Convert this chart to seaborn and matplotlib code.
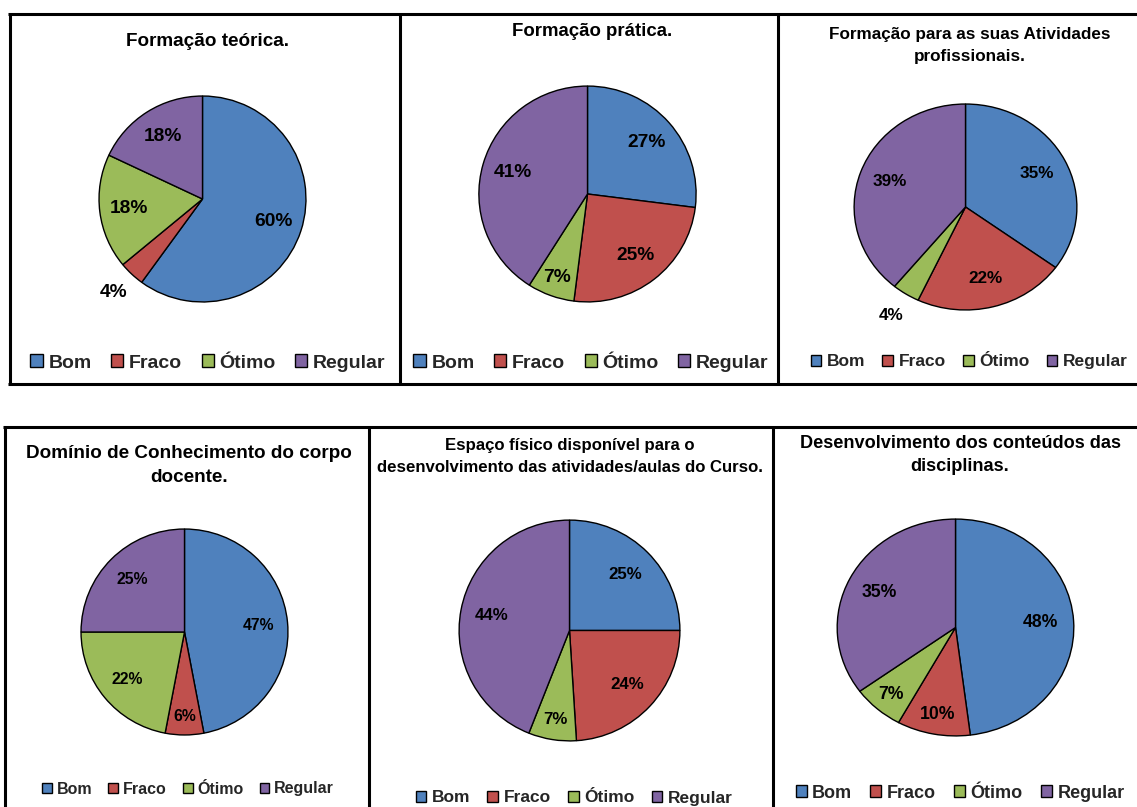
import matplotlib
matplotlib.use("Agg")
import matplotlib.pyplot as plt
import seaborn as sns
import numpy as np
from matplotlib.lines import Line2D

# ---------------- data ----------------
categories = ["Bom", "Fraco", "Ótimo", "Regular"]
titles = [
    "Formação teórica.",
    "Formação prática.",
    "Formação para as suas Atividades\nprofissionais.",
    "Domínio de Conhecimento do corpo\ndocente.",
    "Espaço físico disponível para o\ndesenvolvimento das atividades/aulas do Curso.",
    "Desenvolvimento dos conteúdos das\ndisciplinas.",
]
v_teorica = [60, 4, 18, 18]
v_pratica = [27, 25, 7, 41]
v_profissional = [35, 22, 4, 39]
v_dominio = [47, 6, 22, 25]
v_espaco = [25, 24, 7, 44]
v_conteudos = [48, 10, 7, 35]
series = [v_teorica, v_pratica, v_profissional, v_dominio, v_espaco, v_conteudos]

# ---------------- style ----------------
sns.set_theme(style="white")
plt.rcParams['font.family'] = ['Liberation Sans', 'DejaVu Sans']
colors = ["#4F81BD", "#C0504D", "#9BBB59", "#8064A2"]

W, H = 1137, 807
fig = plt.figure(figsize=(W / 100, H / 100), dpi=100)
fig.patch.set_facecolor("white")

# layout (pixels): cx, cy, rx, ry, title_x, title_y, title_fs, title_ls, pct_fs, leg_x, leg_y, leg_fs
layout = [
    (202.5, 199, 104.5, 104, 208, 42, 13.6, 1.2, 13.8, 208, 363, 14),
    (587.5, 194, 109.7, 109, 592, 32, 13.4, 1.2, 13.8, 591, 363, 14),
    (965.5, 207, 112.5, 104, 970, 45.5, 12.3, 1.6, 12.3, 969, 362, 12.5),
    (184.5, 632, 104.5, 104, 189, 465.5, 13.6, 1.6, 11.3, 188, 789, 11.5),
    (569.5, 630.5, 111.5, 111.5, 570, 456.5, 12.1, 1.6, 12.2, 574, 798, 12.5),
    (955.5, 627.5, 119.5, 109.5, 960, 455, 13.1, 1.45, 12.7, 960, 793, 13),
]

for vals, title, (cx, cy, rx, ry, tx, ty, tfs, tls, pfs, lx, ly, lfs) in zip(series, titles, layout):
    ax = fig.add_axes([(cx - rx) / W, 1 - (cy + ry) / H, 2 * rx / W, 2 * ry / H])
    wedges, _ = ax.pie(vals, colors=colors, startangle=90, counterclock=False,
                       wedgeprops=dict(edgecolor="black", linewidth=1.0))
    ax.set_aspect("auto")
    ax.set_xlim(-1.01, 1.01)
    ax.set_ylim(-1.01, 1.01)
    ax.axis("off")
    for w, v in zip(wedges, vals):
        mid = np.deg2rad((w.theta1 + w.theta2) / 2)
        d = 1.25 if v < 5 else (0.82 if v <= 10 else 0.72)
        ax.text(d * np.cos(mid), d * np.sin(mid), f"{v}%", ha="center", va="center",
                fontsize=pfs, fontweight="bold", color="black", clip_on=False)
    fig.text(tx / W, 1 - ty / H, title, ha="center", va="center", fontsize=tfs,
             fontweight="bold", color="black", multialignment="center", linespacing=tls)
    ax.legend(wedges, categories, loc="center", bbox_to_anchor=(lx / W, 1 - ly / H),
              bbox_transform=fig.transFigure, ncol=4, frameon=False,
              handlelength=0.62, handleheight=0.62, handletextpad=0.3,
              columnspacing=1.0, borderpad=0, prop=dict(weight="bold", size=lfs))

# ---------------- panel borders ----------------
def hline(y, x0, x1):
    fig.add_artist(Line2D([x0 / W, x1 / W], [1 - y / H, 1 - y / H], transform=fig.transFigure,
                          color="black", lw=2.2, solid_capstyle="butt"))

def vline(x, y0, y1):
    fig.add_artist(Line2D([x / W, x / W], [1 - y0 / H, 1 - y1 / H], transform=fig.transFigure,
                          color="black", lw=2.2, solid_capstyle="butt"))

hline(13.5, 8, W)
hline(383.5, 8, W)
vline(9.5, 12.5, 384.5)
vline(399.5, 12.5, 384.5)
vline(778, 12.5, 384.5)
hline(426.5, 3, W)
vline(4.5, 425.5, H)
vline(368.5, 425.5, H)
vline(773, 425.5, H)

fig.savefig("out.png", dpi=100, facecolor="white")
